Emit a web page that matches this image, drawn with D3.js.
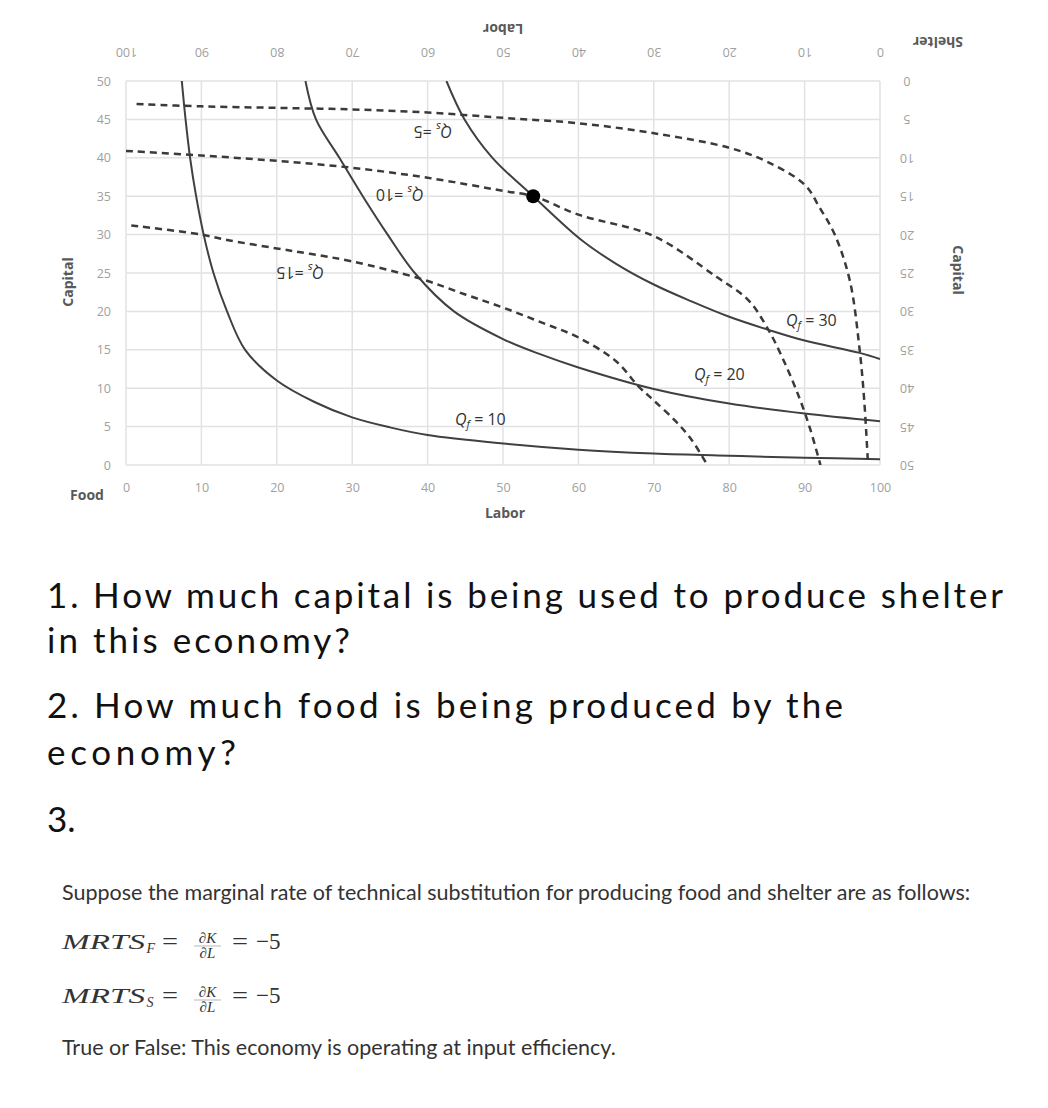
<!DOCTYPE html>
<html>
<head>
<meta charset="utf-8">
<script src="https://cdn.jsdelivr.net/npm/d3@7"></script>
<style>
  html, body { margin: 0; padding: 0; background: #fff; }
  svg { display: block; }
</style>
</head>
<body>
<svg id="chart" width="1048" height="1108"></svg>
<script>
// ---------- DATA ----------
const xTicks = [0, 10, 20, 30, 40, 50, 60, 70, 80, 90, 100];   // Labor (food origin)
const yTicks = [0, 5, 10, 15, 20, 25, 30, 35, 40, 45, 50];      // Capital (food origin)
const shelterXTicks = [100, 90, 80, 70, 60, 50, 40, 30, 20, 10, 0];
const shelterYTicks = [0, 5, 10, 15, 20, 25, 30, 35, 40, 45, 50];

// food isoquants [labor, capital]
const qf10 = [[7.4,50],[7.9,45],[8.5,40],[9.3,35],[10.3,30],[11.6,25],[13.4,20],[15.8,15],[20,11],[25,8.2],[30,6.2],[35,4.9],[40,3.9],[50,2.8],[60,2.0],[70,1.5],[80,1.2],[90,0.95],[100,0.75]];
const qf20 = [[23.8,50],[25.2,45],[28.3,40],[31.4,35],[34.7,30],[38.3,25],[43.5,20],[50,16.4],[55,14.4],[60,12.7],[70,9.9],[80,8.0],[90,6.7],[100,5.7]];
const qf30 = [[42.5,50],[44.9,45],[48.6,40],[54,35],[60.4,29.3],[65,26.2],[70,23.5],[75,21.3],[80,19.3],[85.2,17.6],[90,16.2],[97.3,14.6],[100,13.8]];

// shelter isoquants [labor, capital] in food-origin coordinates
const qs5  = [[1.4,47],[10,46.7],[20,46.5],[30,46.3],[40,45.9],[50,45.2],[60,44.5],[70,43.2],[80,41.3],[85,39.5],[90,36.5],[92,33.5],[94,30],[96,24],[97.3,15],[97.9,8.5],[98.4,0.3]];
const qs10 = [[0,40.9],[10,40.3],[20,39.6],[30,38.7],[40,37.4],[50,35.7],[54,35],[60,32.6],[70,29.8],[78.3,24.5],[82.5,21.5],[85.2,17.6],[87.5,13],[89.4,8.5],[90.8,4.5],[92.1,0]];
const qs15 = [[0.7,31.2],[10,30.0],[13.4,29.3],[20,28.2],[24.4,27.5],[30,26.5],[38.9,24.3],[45,22.2],[50,20.5],[55,18.6],[60,16.6],[65,13.5],[68,10.2],[70,8.4],[72.9,5.7],[75,3.3],[77.1,0]];

const point = [54, 35];

// curve labels: [labor, capital, subscript, value]
const foodLabels = [[47, 6, "f", "10"], [78.7, 11.8, "f", "20"], [90.9, 18.9, "f", "30"]];
const shelterLabels = [[40.7, 43.4, "s", "5"], [36.3, 35.2, "s", "10"], [23.1, 25.0, "s", "15"]];

// question text lines
const questionLines = [
  "1. How much capital is being used to produce shelter",
  "in this economy?",
  "2. How much food is being produced by the",
  "economy?",
  "3."
];
const introText = "Suppose the marginal rate of technical substitution for producing food and shelter are as follows:";
const closingText = "True or False: This economy is operating at input efficiency.";

// ---------- LAYOUT ----------
const svg = d3.select("#chart");
const X0 = 126, X1 = 880, Y0 = 465, Y1 = 81;
const x = d3.scaleLinear().domain([0, 100]).range([X0, X1]);
const y = d3.scaleLinear().domain([0, 50]).range([Y0, Y1]);
const xs = d3.scaleLinear().domain([100, 0]).range([X0, X1]); // shelter labor
const ys = d3.scaleLinear().domain([0, 50]).range([Y1, Y0]);  // shelter capital

const tickFont = "'Open Sans', sans-serif";
const tickColor = "#a0a0a0";
const gridColor = "#e2e2e2";

// grid
const grid = svg.append("g");
grid.selectAll("line.v").data(xTicks).join("line")
  .attr("x1", d => x(d)).attr("x2", d => x(d)).attr("y1", Y1).attr("y2", Y0)
  .attr("stroke", gridColor).attr("stroke-width", 1.5);
grid.selectAll("line.h").data(yTicks).join("line")
  .attr("x1", X0).attr("x2", X1).attr("y1", d => y(d)).attr("y2", d => y(d))
  .attr("stroke", gridColor).attr("stroke-width", 1.5);

// axes
const bAxis = svg.append("g").attr("transform", `translate(0,${Y0})`)
  .call(d3.axisBottom(x).tickValues(xTicks).tickSize(0).tickPadding(18));
const lAxis = svg.append("g").attr("transform", `translate(${X0},0)`)
  .call(d3.axisLeft(y).tickValues(yTicks).tickSize(0).tickPadding(15));
const tAxis = svg.append("g").attr("transform", `translate(0,${Y1})`)
  .call(d3.axisTop(xs).tickValues(shelterXTicks).tickSize(0).tickPadding(0));
const rAxis = svg.append("g").attr("transform", `translate(${X1},0)`)
  .call(d3.axisRight(ys).tickValues(shelterYTicks).tickSize(0).tickPadding(0));

[bAxis, lAxis, tAxis, rAxis].forEach(g => {
  g.select(".domain").remove();
  g.selectAll("text").attr("fill", tickColor).style("font-family", tickFont).style("font-size", "12.5px");
});
tAxis.selectAll(".tick text")
  .attr("y", 0).attr("dy", null)
  .attr("text-anchor", "middle").attr("dominant-baseline", "central")
  .attr("transform", "translate(0,-29) rotate(180)");
rAxis.selectAll(".tick text")
  .attr("x", 0).attr("dy", null)
  .attr("text-anchor", "middle").attr("dominant-baseline", "central")
  .attr("transform", "translate(27,0) rotate(180)");

// axis titles
const titleStyle = sel => sel.attr("fill", "#595959").style("font-family", tickFont)
  .style("font-size", "14px").style("font-weight", "bold")
  .attr("text-anchor", "middle").attr("dominant-baseline", "central");
svg.append("text").text("Capital").call(titleStyle).attr("transform", "translate(67,282) rotate(-90)");
svg.append("text").text("Food").call(titleStyle).attr("transform", "translate(87,494)");
svg.append("text").text("Labor").call(titleStyle).attr("transform", "translate(505,512)");
svg.append("text").text("Labor").call(titleStyle).attr("transform", "translate(503,29) rotate(180)");
svg.append("text").text("Shelter").call(titleStyle).attr("transform", "translate(938,42) rotate(180)");
svg.append("text").text("Capital").call(titleStyle).attr("transform", "translate(958,270) rotate(90)");

// curves
svg.append("clipPath").attr("id", "plotclip").append("rect")
  .attr("x", X0).attr("y", Y1).attr("width", X1 - X0).attr("height", Y0 - Y1);
const line = d3.line().x(d => x(d[0])).y(d => y(d[1])).curve(d3.curveCatmullRom.alpha(0.5));
const curves = svg.append("g").attr("clip-path", "url(#plotclip)");
[qf10, qf20, qf30].forEach(s => curves.append("path").attr("d", line(s))
  .attr("fill", "none").attr("stroke", "#404040").attr("stroke-width", 2));
[qs5, qs10, qs15].forEach(s => curves.append("path").attr("d", line(s))
  .attr("fill", "none").attr("stroke", "#3a3a3a").attr("stroke-width", 2.5)
  .attr("stroke-dasharray", "7,5"));

svg.append("circle").attr("cx", x(point[0])).attr("cy", y(point[1])).attr("r", 7).attr("fill", "#000");

// curve labels
function qLabel(d, rotated) {
  const t = svg.append("text")
    .attr("text-anchor", "middle").attr("dominant-baseline", "central")
    .attr("fill", "#333").style("font-family", tickFont).style("font-size", "16px")
    .attr("transform", `translate(${x(d[0])},${y(d[1])})` + (rotated ? " rotate(180)" : ""));
  t.append("tspan").text("Q").style("font-style", "italic");
  t.append("tspan").text(d[2]).style("font-style", "italic").style("font-size", "11px").attr("dy", 4);
  t.append("tspan").text(rotated ? " =" + d[3] : " = " + d[3]).attr("dy", -4);
}
foodLabels.forEach(d => qLabel(d, false));
shelterLabels.forEach(d => qLabel(d, true));

// ---------- QUESTION TEXT ----------
const qFont = "Lato, 'Open Sans', sans-serif";
const bigY = [608, 653, 718, 765, 832];
const bigW = [956, 303, 796, 189, 0];
svg.selectAll("text.big").data(questionLines).join("text").attr("class", "big")
  .attr("x", 47).attr("y", (d, i) => bigY[i]).text(d => d)
  .attr("fill", "#111").style("font-family", qFont).style("font-size", "35px")
  .each(function(d, i) {
    if (bigW[i]) d3.select(this).attr("textLength", bigW[i]).attr("lengthAdjust", "spacing");
  });

svg.append("text").attr("x", 62).attr("y", 900).text(introText)
  .attr("fill", "#333").style("font-family", qFont).style("font-size", "21.5px");
svg.append("text").attr("x", 62).attr("y", 1055).text(closingText)
  .attr("fill", "#333").style("font-family", qFont).style("font-size", "21.5px");

// formulas
const serif = "'Liberation Serif', 'DejaVu Serif', serif";
function formula(base, sub) {
  const g = svg.append("g").attr("fill", "#333");
  const t = (txt) => g.append("text").text(txt).style("font-family", serif);
  t("MRTS").attr("x", 62).attr("y", base)
    .style("font-style", "italic").style("font-size", "22px")
    .attr("textLength", 83).attr("lengthAdjust", "spacingAndGlyphs");
  t(sub).attr("x", 146.5).attr("y", base + 4)
    .style("font-style", "italic").style("font-size", "14px");
  t("=").attr("x", 170).attr("y", base).attr("text-anchor", "middle").style("font-size", "24px")
    .attr("textLength", 16).attr("lengthAdjust", "spacingAndGlyphs");
  t("∂K").attr("x", 207.5).attr("y", base - 6).attr("text-anchor", "middle")
    .style("font-size", "15px").style("font-style", "italic");
  g.append("line").attr("x1", 194).attr("x2", 221).attr("y1", base - 3).attr("y2", base - 3)
    .attr("stroke", "#888").attr("stroke-width", 0.6);
  t("∂L").attr("x", 207.5).attr("y", base + 9).attr("text-anchor", "middle")
    .style("font-size", "15px").style("font-style", "italic");
  t("=").attr("x", 240).attr("y", base).attr("text-anchor", "middle").style("font-size", "24px")
    .attr("textLength", 16).attr("lengthAdjust", "spacingAndGlyphs");
  t("−5").attr("x", 256).attr("y", base).style("font-size", "23px");
}
formula(949, "F");
formula(1003, "S");
</script>
</body>
</html>
